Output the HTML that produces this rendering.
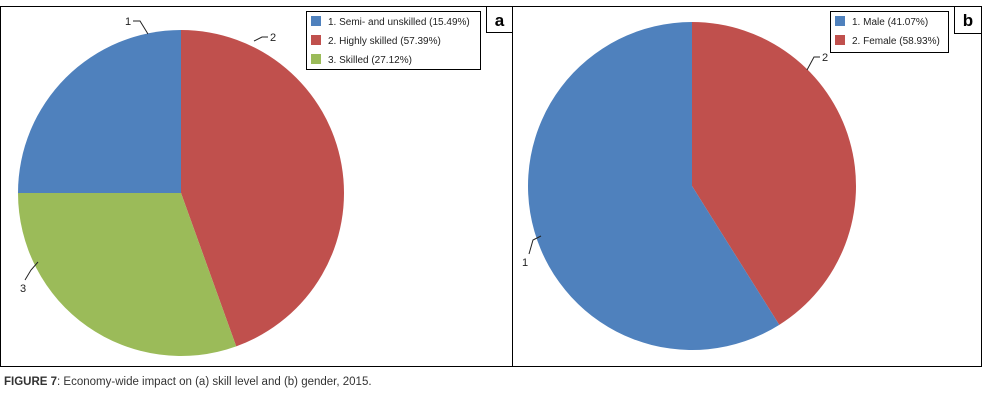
<!DOCTYPE html>
<html><head><meta charset="utf-8"><style>
body{margin:0;background:#fff;width:988px;height:403px;overflow:hidden;font-family:"Liberation Sans",sans-serif}
svg{position:absolute;left:0;top:0}
</style></head><body>
<svg width="988" height="403">
<rect x="0.5" y="6.5" width="981" height="360" fill="none" stroke="#000"/>
<line x1="512.5" y1="6" x2="512.5" y2="367" stroke="#000"/>
<g id="pa"></g>
<g id="pb"></g>
<rect x="486.5" y="6.5" width="26" height="26" fill="#fff" stroke="#000"/>
<text x="499.5" y="26" font-size="17" font-weight="bold" text-anchor="middle">a</text>
<rect x="954.5" y="6.5" width="27" height="27" fill="#fff" stroke="#000"/>
<text x="968" y="26" font-size="17" font-weight="bold" text-anchor="middle">b</text>
<g>
<rect x="306.5" y="11.5" width="174" height="58" fill="#fff" stroke="#000"/>
<rect x="311" y="16" width="10" height="10" fill="#4f81bd"/>
<text x="328" y="25" font-size="10" fill="#222">1. Semi- and unskilled (15.49%)</text>
<rect x="311" y="35" width="10" height="10" fill="#c0504d"/>
<text x="328" y="44" font-size="10" fill="#222">2. Highly skilled (57.39%)</text>
<rect x="311" y="54" width="10" height="10" fill="#9bbb59"/>
<text x="328" y="63" font-size="10" fill="#222">3. Skilled (27.12%)</text>
</g>
<g>
<rect x="830.5" y="11.5" width="118" height="41" fill="#fff" stroke="#000"/>
<rect x="835" y="16" width="10" height="10" fill="#4f81bd"/>
<text x="852" y="25" font-size="10" fill="#222">1. Male (41.07%)</text>
<rect x="835" y="35" width="10" height="10" fill="#c0504d"/>
<text x="852" y="44" font-size="10" fill="#222">2. Female (58.93%)</text>
</g>
<g font-size="11" fill="#222" stroke="none">
<polyline points="133,21 140,21 148,34" fill="none" stroke="#222"/>
<text x="125" y="25">1</text>
<polyline points="268,37 262,37 254,41" fill="none" stroke="#222"/>
<text x="270" y="41">2</text>
<polyline points="25,280 31,270 38,262" fill="none" stroke="#222"/>
<text x="20" y="292">3</text>
<polyline points="820,57 814,57 807,70" fill="none" stroke="#222"/>
<text x="822" y="61">2</text>
<polyline points="529,254 533,240 541,236" fill="none" stroke="#222"/>
<text x="522" y="266">1</text>
</g>
<text x="4" y="385" font-size="11.5" fill="#333"><tspan font-weight="bold">FIGURE 7</tspan>: Economy-wide impact on (a) skill level and (b) gender, 2015.</text>
</svg>
<script>
// Panel a: drawn slice shares, clockwise from 12 o'clock
const aNames = ["highly-skilled","skilled","semi-and-unskilled"];
const aValues = [44.5, 30.5, 25.0];
const aColors = ["#c0504d","#9bbb59","#4f81bd"];
// Panel b
const bNames = ["female","male"];
const bValues = [41.07, 58.93];
const bColors = ["#c0504d","#4f81bd"];
const NS="http://www.w3.org/2000/svg";
function drawPie(g, names, vals, cols, cx, cy, r, prefix){
  const tot = vals.reduce((s,v)=>s+v,0);
  let a0 = 0;
  vals.forEach((v,i)=>{
    const a1 = a0 + v/tot*2*Math.PI;
    const x0=cx+r*Math.sin(a0), y0=cy-r*Math.cos(a0);
    const x1=cx+r*Math.sin(a1), y1=cy-r*Math.cos(a1);
    const p=document.createElementNS(NS,"path");
    p.setAttribute("d",`M${cx},${cy}L${x0},${y0}A${r},${r} 0 ${a1-a0>Math.PI?1:0} 1 ${x1},${y1}Z`);
    p.setAttribute("fill",cols[i]);
    
    
    g.appendChild(p);
    a0=a1;
  });
}
drawPie(document.getElementById("pa"), aNames, aValues, aColors, 181, 193, 163, "slice-a-");
drawPie(document.getElementById("pb"), bNames, bValues, bColors, 692, 186, 164, "slice-b-");
</script>
</body></html>
